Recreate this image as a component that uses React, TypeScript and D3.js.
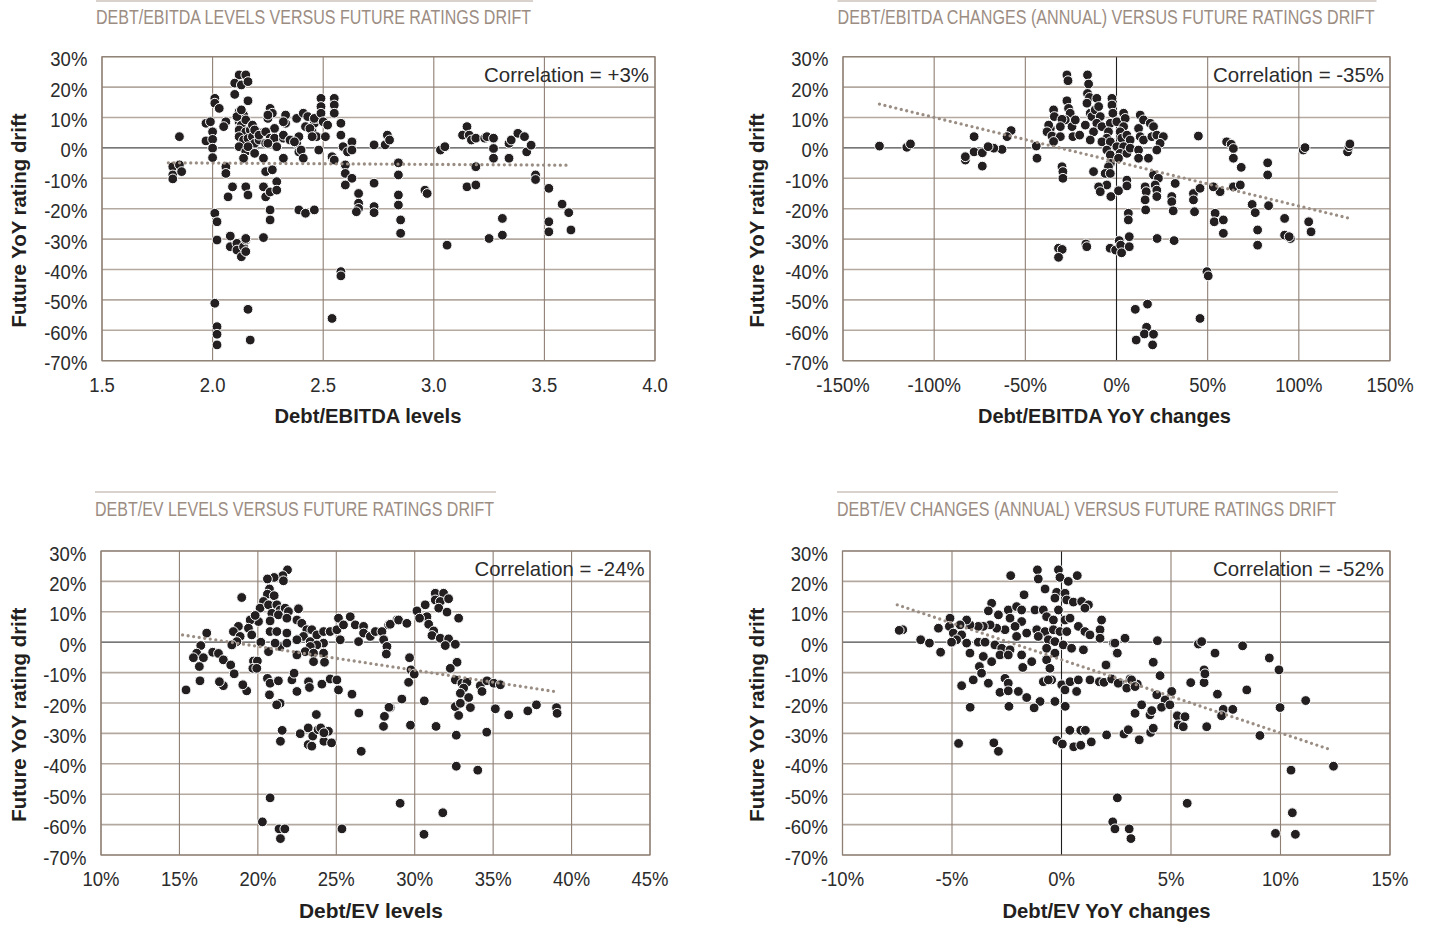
import React from 'react';
import * as d3 from 'd3';

type Pt = [number, number];

const SANS = "'Liberation Sans', Arial, sans-serif";

// shared y axis (future YoY rating drift, %)
const yTicks = [30, 20, 10, 0, -10, -20, -30, -40, -50, -60, -70];

// x ticks per panel
const ebitdaLevelTicks = [1.5, 2.0, 2.5, 3.0, 3.5, 4.0];
const ebitdaChangeTicks = [-150, -100, -50, 0, 50, 100, 150];
const evLevelTicks = [10, 15, 20, 25, 30, 35, 40, 45];
const evChangeTicks = [-10, -5, 0, 5, 10, 15];

// Debt/EBITDA levels vs drift
const ebitdaLevelPts: Pt[] = [
  [2.12, 24.0], [2.15, 24.0], [2.10, 21.3], [2.13, 20.7], [2.16, 21.8], [2.10, 17.6], [2.16, 15.5],
  [2.01, 16.3], [2.01, 14.7], [2.03, 13.0],
  [1.97, 8.1], [1.99, 8.6], [1.97, 2.3], [2.00, 5.3], [2.00, 2.8], [2.00, -0.1], [2.00, -3.2],
  [1.85, 3.7], [2.06, 8.6], [2.05, 7.0],
  [2.12, 11.9], [2.14, 10.8], [2.12, 8.6], [2.13, 7.5], [2.15, 9.2], [2.18, 7.5], [2.12, 5.9], [2.15, 5.3],
  [2.17, 5.9], [2.20, 5.3], [2.12, 3.7], [2.14, 2.6], [2.16, 3.1], [2.18, 3.7], [2.21, 4.2], [2.12, 0.4],
  [2.17, 0.2], [2.19, 1.5], [2.21, 2.6], [2.15, -1.2], [2.19, -1.7], [2.14, -3.4],
  [2.11, 10.3], [2.13, 12.5], [2.16, 0.4], [2.18, 7.5], [2.19, 5.9], [2.19, -1.8], [2.21, 4.2],
  [2.26, 13.0], [2.27, 11.4], [2.25, 9.7], [2.28, 6.4], [2.24, 5.3], [2.26, 3.2], [2.24, 1.5], [2.28, 3.2],
  [2.29, 0.4], [2.32, 3.2], [2.33, 8.1], [2.33, 10.8], [2.32, -3.4], [2.25, 1.5], [2.25, 10.8], [2.32, 4.2],
  [2.32, 8.6], [2.35, 2.6], [2.38, 1.5], [2.39, -1.3],
  [2.23, -3.4], [2.24, -7.8], [2.27, -7.2], [2.29, -11.1], [2.23, -12.8], [2.24, -16.1], [2.26, -14.5],
  [2.29, -13.9], [2.09, -12.8], [2.07, -16.1], [2.15, -12.8], [2.16, -15.5], [2.14, -3.4], [2.06, -6.2], [2.06, -8.4],
  [2.38, 9.7], [2.41, 11.4], [2.43, 10.3], [2.42, 7.0], [2.46, 8.1], [2.47, 9.7], [2.45, 5.3], [2.47, 3.7],
  [2.39, 3.7], [2.35, 2.6], [2.37, 2.0], [2.40, -0.7], [2.41, -3.4], [2.44, 6.4], [2.45, 3.7], [2.46, 9.7],
  [2.49, 16.3], [2.49, 13.6], [2.49, 11.4], [2.50, 8.6], [2.52, 7.5], [2.51, 3.7], [2.48, -0.7],
  [2.55, 16.3], [2.55, 14.1], [2.55, 11.4], [2.58, 8.1], [2.58, 4.2], [2.59, 0.4], [2.61, -1.3], [2.63, 2.0],
  [2.63, -0.7], [2.54, -2.9], [2.55, -4.0], [2.60, -5.6], [2.60, -8.4], [2.63, -10.0], [2.60, -12.2],
  [2.73, 1.0], [2.78, 1.0], [2.79, 4.2], [2.80, 2.6], [2.73, -11.6], [2.66, -15.0], [2.66, -18.2], [2.73, -19.3], [2.66, -19.9],
  [1.82, -6.2], [1.82, -8.9], [1.85, -5.6], [1.86, -7.8], [1.82, -10.2],
  [2.01, -21.5], [2.02, -24.3], [2.02, -30.3], [2.01, -51.1], [2.02, -58.8], [2.02, -61.3], [2.02, -64.8],
  [2.08, -29.0], [2.08, -32.5], [2.11, -31.4], [2.11, -33.6], [2.13, -35.8], [2.14, -32.5], [2.15, -30.3],
  [2.15, -29.8], [2.15, -34.1], [2.16, -53.1], [2.17, -63.2], [2.23, -29.5], [2.26, -20.4], [2.26, -23.7],
  [2.39, -20.4], [2.42, -21.5], [2.46, -20.4], [2.54, -56.1], [2.58, -40.7], [2.58, -42.1], [2.65, -21.0],
  [2.73, -21.3], [2.84, -4.9], [2.84, -8.9], [2.84, -15.5], [2.84, -18.8], [2.85, -23.7], [2.85, -28.1],
  [2.96, -13.9], [2.97, -15.0], [3.03, -0.7], [3.05, 0.4], [3.06, -32.0], [3.13, 4.2], [3.15, 7.0],
  [3.16, 4.2], [3.17, 2.6], [3.15, -12.8], [3.19, -12.2], [3.19, -6.2], [3.19, 3.2], [3.23, 3.2],
  [3.24, 3.7], [3.27, 3.2], [3.27, -0.2], [3.27, -3.4], [3.25, -29.8], [3.31, -23.2], [3.31, -28.7],
  [3.34, 1.5], [3.35, 2.6], [3.34, -3.4], [3.38, 4.8], [3.41, 3.7], [3.42, -1.3], [3.44, 0.9],
  [3.46, -8.9], [3.46, -10.4], [3.52, -13.3], [3.52, -24.3], [3.52, -27.6], [3.58, -18.5], [3.61, -21.3], [3.62, -27.0],
];

// Debt/EBITDA YoY changes (%) vs drift
const ebitdaChangePts: Pt[] = [
  [-27.2, 24.0], [-26.6, 22.1], [-15.9, 24.0], [-15.3, 21.0], [-15.9, 17.9], [-14.8, 16.6], [-16.2, 14.7],
  [-10.8, 16.3], [-27.2, 15.5], [-26.3, 13.0], [-25.4, 11.4], [-28.1, 9.2], [-34.5, 12.5], [-34.1, 10.3],
  [-29.9, 9.4], [-30.8, 7.0], [-36.3, 6.4], [-37.2, 7.5], [-38.1, 5.3], [-35.4, 3.9], [-30.8, 3.7],
  [-34.5, 2.1], [-24.4, 7.0], [-23.9, 3.7], [-20.2, 4.2], [-22.6, 9.2], [-17.1, 7.5], [-14.4, 11.4],
  [-13.5, 10.3], [-11.7, 12.5], [-9.8, 13.6], [-8.9, 10.3], [-10.8, 8.1], [-12.6, 5.3], [-14.4, 2.6],
  [-8.0, 7.0], [-2.5, 16.3], [-2.5, 14.1], [-2.0, 11.4], [-3.4, 8.1], [0.2, 8.6], [3.9, 11.4], [4.8, 9.7],
  [3.9, 7.0], [2.0, 5.3], [-4.4, 5.3], [-5.3, 3.2], [-8.0, 2.0], [-3.4, 2.0], [2.9, 3.2], [5.7, 4.2],
  [7.5, 2.6], [0.2, 0.4], [3.9, 0.4], [-5.3, -0.7], [-3.4, -2.3], [2.0, -1.8], [5.7, -1.8], [7.5, -0.1],
  [12.1, 6.4], [13.0, 10.8], [14.8, 9.2], [18.5, 8.1], [20.3, 7.0], [13.0, 3.7], [14.8, 2.6], [19.4, 3.7],
  [22.1, 4.2], [25.7, 3.7], [23.9, 1.5], [22.1, -0.7], [12.1, -0.7], [12.1, -3.4], [17.5, -3.4], [1.1, -3.4],
  [-3.4, -5.1], [-4.4, -6.2], [-6.2, -8.4], [-3.4, -8.4], [-12.6, -7.8], [-29.9, -6.2], [-29.4, -7.8],
  [-29.4, -10.0], [-43.6, -3.4], [-44.0, 0.6], [-62.8, -0.5], [-67.3, -0.1], [-57.8, 5.7], [-60.0, 3.7],
  [5.7, -10.6], [5.7, -12.5], [-5.3, -12.2], [-9.8, -12.8], [-8.9, -14.4], [-3.1, -16.0], [1.1, -14.1],
  [15.7, -12.8], [16.3, -14.4], [20.3, -8.9], [23.0, -10.0], [21.2, -12.2], [22.1, -13.9], [22.1, -16.0],
  [15.7, -17.1], [32.2, -11.7], [30.3, -16.0], [30.3, -17.7], [42.2, -15.0], [42.2, -17.1], [45.8, -13.3],
  [44.9, 3.9], [56.8, -14.4], [53.1, -12.8], [60.4, 2.0],
  [-130.0, 0.6], [-115.0, 0.2], [-113.0, 1.3], [-82.9, -4.0], [-82.9, -2.9], [-78.1, 3.7], [-78.1, -1.3],
  [-73.6, -1.6], [-73.6, -6.0], [-70.4, 0.4], [-31.8, -33.0], [-29.8, -33.4], [-31.8, -36.0], [-16.8, -31.6],
  [-16.3, -32.5], [-3.5, -33.0], [-0.5, -33.6], [1.5, -30.5], [2.3, -32.0], [2.8, -34.5], [7.0, -29.2],
  [7.0, -32.5], [6.5, -21.5], [6.5, -23.7], [10.3, -53.1], [10.8, -63.2], [17.0, -51.4], [16.5, -59.0],
  [15.3, -61.2], [20.3, -61.3], [19.8, -64.8], [16.0, -20.4], [22.3, -29.8], [31.1, -20.7], [31.6, -30.5],
  [42.8, -21.0], [49.6, -40.7], [50.3, -42.1], [45.8, -56.1], [54.1, -21.5], [53.6, -24.3], [58.6, -23.7],
  [58.6, -28.1], [62.9, 1.2], [64.1, -0.2], [64.1, -3.4], [64.1, -12.8], [67.9, -12.2], [68.4, -6.4],
  [74.4, -18.6], [76.1, -21.3], [77.4, -27.0], [77.4, -32.0], [82.9, -4.9], [82.9, -8.9], [83.4, -19.0],
  [92.2, -23.2], [92.2, -28.7], [95.4, -29.8], [94.7, -29.2], [102.4, -0.7], [103.4, 0.1], [105.4, -24.3],
  [106.7, -27.6], [126.7, -1.3], [127.5, 0.4], [128.0, 1.3],
];

// Debt/EV levels (%) vs drift
const evLevelPts: Pt[] = [
  [21.89, 23.8], [21.59, 21.9], [21.63, 20.2], [21.04, 21.3], [20.61, 20.8], [20.74, 17.5], [20.61, 15.8],
  [21.04, 15.3], [18.97, 14.7], [20.36, 13.4], [20.14, 11.2], [20.68, 12.3], [21.21, 12.3], [21.42, 10.6],
  [21.74, 11.2], [21.95, 10.1], [22.59, 11.0], [20.89, 9.5], [21.31, 9.0], [21.85, 7.9], [20.78, 7.0],
  [20.04, 6.8], [19.51, 7.3], [19.83, 8.8], [19.40, 4.6], [19.61, 2.4], [18.76, 5.2], [18.44, 3.5],
  [18.87, 1.9], [18.66, 0.2], [18.34, -0.9], [16.74, 3.0], [16.36, -1.1], [16.10, -3.6], [15.89, -5.1],
  [16.53, -5.1], [16.27, -8.0], [17.12, -3.3], [17.49, -3.7], [17.80, -5.8], [18.27, -7.5], [18.49, -10.4],
  [20.19, 0.0], [19.72, -6.2], [19.97, -6.2], [19.68, -8.6], [19.93, -8.6], [20.78, 3.5], [21.21, 3.5],
  [21.85, 3.0], [22.49, 7.3], [22.80, 6.2], [23.12, 4.1], [23.44, 4.1], [22.91, 1.9], [22.49, 0.8],
  [23.34, 0.2], [23.76, 2.4], [24.19, 3.5], [24.61, 3.5], [25.04, 4.1], [25.14, 7.9], [25.46, 5.7],
  [25.89, 8.4], [26.21, 5.7], [26.74, 5.2], [26.74, 3.0], [27.17, 1.9], [27.49, 3.5], [27.91, 3.5],
  [28.34, 5.7], [28.87, 7.3], [28.02, 0.8], [28.23, -1.4], [28.19, -3.9], [26.42, 0.2], [25.25, 0.8],
  [24.19, -0.3], [23.76, -0.9], [23.34, -1.4], [23.02, -3.1], [23.55, -3.6], [24.19, -3.6], [22.49, -4.2],
  [21.42, -1.4], [21.10, -0.3], [20.68, -3.1], [21.85, -0.3], [23.55, -6.4], [24.25, -6.6], [20.61, -11.9],
  [20.78, -13.5], [21.31, -12.7], [22.17, -12.4], [22.31, -10.2], [23.23, -13.0], [23.29, -14.9], [24.08, -13.8],
  [24.61, -12.1], [25.04, -12.4], [25.14, -15.7], [26.00, -17.1], [22.49, -16.2], [20.74, -17.3], [19.29, -16.0],
  [19.04, -14.0], [17.80, -14.3], [17.55, -13.0], [16.31, -12.7], [15.42, -15.7], [21.42, -20.1],
  [28.44, 5.9], [28.97, 7.3], [29.50, 6.2], [30.14, 10.3], [30.67, 12.3], [31.31, 16.1], [31.84, 16.1],
  [31.31, 13.9], [31.63, 13.4], [32.16, 14.3], [31.53, 11.2], [32.06, 9.9], [32.80, 7.9], [30.78, 8.4],
  [30.31, 7.9], [30.89, 5.9], [31.21, 3.7], [31.10, 2.2], [31.63, 1.3], [32.16, 1.1], [32.59, -0.7],
  [31.95, -1.1], [32.70, -6.6], [32.27, -8.6], [29.67, -5.1], [29.76, -9.1], [29.97, -10.5], [29.61, -13.2],
  [29.18, -18.7], [30.61, -19.3], [28.44, -21.5], [32.59, -12.4], [33.01, -13.5], [33.33, -13.2], [33.12, -15.1],
  [32.91, -16.8], [33.44, -18.2], [32.59, -21.2], [32.91, -20.1], [33.55, -21.5], [32.80, -24.1], [34.18, -14.3],
  [34.29, -16.2], [34.61, -12.7], [35.04, -13.5], [35.46, -14.0], [35.14, -21.9], [35.99, -23.9], [37.21, -22.6],
  [37.76, -20.6], [39.04, -21.5], [39.08, -23.4],
  [21.20, -20.6], [21.55, -29.0], [21.44, -32.6], [20.78, -51.2], [20.29, -59.1], [21.35, -61.4], [21.72, -61.4],
  [21.44, -64.6], [22.70, -30.1], [23.21, -28.2], [23.50, -30.9], [23.21, -33.7], [23.44, -34.2], [23.73, -23.8],
  [23.84, -28.8], [24.21, -32.6], [24.01, -28.2], [24.50, -29.3], [24.70, -33.1], [24.21, -29.8], [25.36, -61.4],
  [26.44, -23.3], [26.59, -35.9], [28.01, -27.7], [28.07, -24.4], [28.36, -21.4], [29.07, -53.0], [29.73, -27.3],
  [30.59, -63.2], [31.36, -27.7], [31.79, -56.1], [32.65, -40.8], [32.65, -30.6], [34.02, -42.1], [34.59, -29.6],
];

// Debt/EV YoY changes (%) vs drift
const evChangePts: Pt[] = [
  [-1.10, 23.8], [-1.06, 20.8], [-0.14, 23.8], [-0.07, 21.3], [0.31, 20.0], [0.72, 21.9], [-2.32, 21.9],
  [-0.75, 17.5], [-0.22, 16.4], [-0.30, 14.5], [0.16, 16.1], [0.24, 13.9], [0.54, 13.2], [0.92, 13.4],
  [1.23, 12.3], [1.07, 11.2], [-1.71, 15.6], [-3.19, 12.8], [-3.34, 10.3], [-2.88, 9.0], [-2.43, 10.6],
  [-2.05, 11.7], [-1.82, 10.6], [-2.35, 7.9], [-1.82, 6.8], [-2.12, 5.2], [-2.58, 4.1], [-2.96, 4.6],
  [-3.26, 5.7], [-3.57, 5.2], [-3.80, 5.2], [-4.18, 5.7], [-4.33, 7.3], [-4.63, 5.7], [-5.09, 7.9],
  [-5.12, 5.2], [-4.94, 3.0], [-4.56, 2.4], [-4.79, 0.8], [-5.62, 4.6], [-7.25, 4.1], [-6.43, 0.8],
  [-6.03, -0.3], [-5.52, -3.3], [-5.02, 0.0], [-4.33, -0.3], [-4.18, -3.6], [-3.80, 0.0], [-3.49, 0.0],
  [-3.04, -0.9], [-2.73, -2.0], [-2.35, -2.5], [-2.05, 1.9], [-1.59, 3.0], [-1.13, 4.1], [-1.21, 10.6],
  [-0.83, 10.6], [-0.68, 8.4], [-0.37, 7.3], [-0.14, 10.6], [0.16, 7.3], [0.39, 7.9], [-0.75, 3.5],
  [-0.37, 4.1], [-0.07, 3.5], [0.24, 3.5], [-1.06, 1.9], [-0.60, 0.8], [-0.30, 0.2], [0.08, -0.9],
  [-0.68, -2.0], [-0.30, -3.6], [0.46, -2.0], [0.77, 5.2], [1.07, 3.5], [1.30, 2.4], [1.76, 4.1],
  [1.83, 7.3], [1.76, 1.3], [2.37, -0.3], [2.52, -3.6], [2.90, 1.3], [1.00, -2.5], [-3.57, -4.7],
  [-3.19, -6.4], [-2.81, -4.2], [-2.43, -4.2], [-1.82, -4.2], [-1.77, -8.3], [-1.36, -6.4], [-0.68, -5.8],
  [-0.53, -8.6], [-3.75, -8.0], [-3.65, -10.2], [-4.03, -12.4], [-3.34, -13.5], [-4.56, -14.3], [-2.58, -11.9],
  [-2.43, -13.5], [-2.81, -16.5], [-2.43, -16.0], [-1.97, -16.2], [-1.59, -18.2], [-0.98, -19.5], [-0.45, -12.4],
  [-0.83, -13.0], [-0.60, -12.4], [-0.30, -19.5], [0.01, -14.0], [0.16, -15.7], [0.39, -13.0], [0.69, -16.2],
  [0.77, -12.4], [1.30, -12.4], [1.73, -13.0], [1.94, -13.2], [2.06, -7.5], [2.29, -12.1], [2.67, -13.5],
  [2.98, -15.1], [3.13, -12.1], [3.46, -13.8],
  [2.44, -0.3], [2.55, -3.6], [4.38, 0.5], [6.25, -0.6], [6.40, 0.2], [7.01, -3.6], [8.27, -1.2],
  [9.49, -5.2], [9.93, -9.1], [4.19, -6.6], [4.50, -11.0], [2.03, -7.5], [2.59, -13.5], [3.20, -12.4],
  [3.36, -14.6], [4.35, -17.3], [5.03, -16.2], [4.73, -19.0], [4.57, -21.4], [4.95, -20.6], [3.66, -20.6],
  [3.36, -23.4], [4.04, -23.9], [4.12, -22.5], [5.29, -24.2], [5.64, -24.5], [5.33, -27.2], [5.56, -27.8],
  [5.90, -13.3], [6.51, -13.3], [6.51, -9.1], [6.55, -10.4], [7.12, -17.1], [8.46, -15.7], [7.39, -22.1],
  [7.31, -24.2], [7.82, -22.1], [6.63, -27.8], [9.98, -21.5], [11.15, -19.2], [9.06, -30.7], [2.06, -30.5],
  [2.85, -30.2], [3.05, -28.8], [3.55, -32.1], [4.07, -29.7], [4.19, -28.3],
  [-7.41, 3.9], [-4.70, -33.3], [-4.17, -21.4], [-3.09, -33.1], [-2.88, -35.9], [-2.40, -21.1], [-1.25, -21.6],
  [0.17, -21.1], [-0.21, -32.3], [0.04, -33.5], [0.38, -29.0], [0.56, -34.4], [0.88, -29.0], [0.88, -33.9],
  [1.09, -29.0], [1.36, -32.8], [2.55, -51.2], [2.34, -59.1], [2.44, -61.4], [3.09, -61.4], [3.17, -64.6],
  [5.74, -53.0], [9.77, -62.9], [10.48, -42.1], [10.54, -56.1], [10.68, -63.2], [12.42, -40.8],
];

// dotted regression lines (end points)
const ebitdaLevelTrend: Pt[] = [[1.80, -4.9], [3.62, -5.7]];
const ebitdaChangeTrend: Pt[] = [[-130, 14.4], [128, -23.2]];
const evLevelTrend: Pt[] = [[15.2, 2.4], [38.9, -16.2]];
const evChangeTrend: Pt[] = [[-7.5, 12.3], [12.35, -35.5]];

const titleColor = '#9c8d83';
const gridV = '#8e7f74';
const gridH = '#b3a9a1';
const TICK_SX = 0.88; // condensed look for tick labels

interface PanelProps {
  left: number; right: number; top: number; bottom: number;
  xDomain: [number, number];
  xTicks: number[];
  fmt: (v: number) => string;
  pts: Pt[];
  trend: Pt[];
  title: string; titleX: number; titleW: number; titleSx: number; ruleY: number; titleY: number;
  corr: string; corrRight: number; corrW: number;
  xTitle: string; xTitleW: number; xTitleCx: number;
  yTitleX: number; yTitleCy: number;
  zeroV: boolean;
}

function Panel(p: PanelProps) {
  const x = d3.scaleLinear().domain(p.xDomain).range([p.left, p.right]);
  const y = d3.scaleLinear().domain([-70, 30]).range([p.bottom, p.top]);
  const line = d3.line<Pt>().x(d => x(d[0])).y(d => y(d[1]));
  return (
    <g>
      <line x1={p.titleX} x2={p.titleX + p.titleW} y1={p.ruleY} y2={p.ruleY} stroke="#cbc2bb" strokeWidth={1.5} />
      <text transform={`translate(${p.titleX},${p.titleY}) scale(${p.titleSx},1)`} fill={titleColor}
        fontFamily={SANS} fontSize={20} textLength={(p.titleW - 2) / p.titleSx}
        lengthAdjust="spacingAndGlyphs">{p.title}</text>

      {yTicks.map(v => (
        <line key={'h' + v} x1={p.left} x2={p.right} y1={y(v)} y2={y(v)}
          stroke={v === 0 ? '#4a4a4a' : gridH} strokeWidth={v === 0 ? 1.3 : 1.6} />
      ))}
      {p.xTicks.map(v => (
        <line key={'v' + v} x1={x(v)} x2={x(v)} y1={p.top} y2={p.bottom}
          stroke={p.zeroV && v === 0 ? '#1e1e1e' : gridV} strokeWidth={1.1} />
      ))}
      <rect x={p.left} y={p.top} width={p.right - p.left} height={p.bottom - p.top}
        fill="none" stroke={gridV} strokeWidth={1.2} />

      {yTicks.map(v => (
        <text key={'yl' + v} transform={`translate(${p.left - 14.7},${y(v) + 9.5}) scale(${TICK_SX},1)`}
          textAnchor="end" fontFamily={SANS} fontSize={21} fill="#2b2b2b">{v}%</text>
      ))}
      {p.xTicks.map(v => (
        <text key={'xl' + v} transform={`translate(${x(v)},${p.bottom + 31}) scale(${TICK_SX},1)`}
          textAnchor="middle" fontFamily={SANS} fontSize={21} fill="#2b2b2b">{p.fmt(v)}</text>
      ))}

      {p.pts.map((d, i) => (
        <circle key={i} cx={x(d[0])} cy={y(d[1])} r={4.9} fill="#231f20" stroke="#ffffff" strokeWidth={1} />
      ))}
      <path d={line(p.trend) || ''} fill="none" stroke="#9a8d83" strokeWidth={3.3}
        strokeDasharray="0 5.6" strokeLinecap="round" />

      <text x={p.corrRight} y={p.top + 25} textAnchor="end" fontFamily={SANS} fontSize={21}
        fill="#2b2b2b" textLength={p.corrW} lengthAdjust="spacingAndGlyphs">{p.corr}</text>

      <text x={p.xTitleCx} y={p.bottom + 62.5} textAnchor="middle" fontFamily={SANS} fontWeight="bold"
        fontSize={20.5} fill="#231f20" textLength={p.xTitleW} lengthAdjust="spacingAndGlyphs">{p.xTitle}</text>
      <text transform={`translate(${p.yTitleX},${p.yTitleCy}) rotate(-90)`} textAnchor="middle"
        fontFamily={SANS} fontWeight="bold" fontSize={20.5} fill="#231f20"
        textLength={214} lengthAdjust="spacingAndGlyphs">Future YoY rating drift</text>
    </g>
  );
}

const pct = (v: number) => `${v}%`;
const one = d3.format('.1f');

export default function App() {
  return (
    <svg width={1430} height={926} style={{ position: 'absolute', left: 0, top: 0, background: '#fff' }}>
      <Panel left={102} right={655} top={56.7} bottom={360.7} xDomain={[1.5, 4.0]} xTicks={ebitdaLevelTicks}
        fmt={one} pts={ebitdaLevelPts} trend={ebitdaLevelTrend}
        title="DEBT/EBITDA LEVELS VERSUS FUTURE RATINGS DRIFT" titleX={96} titleW={437} titleSx={0.8}
        ruleY={1} titleY={24}
        corr="Correlation = +3%" corrRight={649} corrW={165}
        xTitle="Debt/EBITDA levels" xTitleW={187} xTitleCx={368} yTitleX={26} yTitleCy={220.5} zeroV={false} />
      <Panel left={843} right={1390} top={56.7} bottom={360.7} xDomain={[-150, 150]} xTicks={ebitdaChangeTicks}
        fmt={pct} pts={ebitdaChangePts} trend={ebitdaChangeTrend}
        title="DEBT/EBITDA CHANGES (ANNUAL) VERSUS FUTURE RATINGS DRIFT" titleX={837.5} titleW={539} titleSx={0.8}
        ruleY={1} titleY={24}
        corr="Correlation = -35%" corrRight={1384} corrW={171}
        xTitle="Debt/EBITDA YoY changes" xTitleW={253} xTitleCx={1104.5} yTitleX={764} yTitleCy={220.5} zeroV={true} />
      <Panel left={101} right={650} top={551} bottom={855} xDomain={[10, 45]} xTicks={evLevelTicks}
        fmt={pct} pts={evLevelPts} trend={evLevelTrend}
        title="DEBT/EV LEVELS VERSUS FUTURE RATINGS DRIFT" titleX={95} titleW={401} titleSx={0.8}
        ruleY={492} titleY={516}
        corr="Correlation = -24%" corrRight={644.5} corrW={170}
        xTitle="Debt/EV levels" xTitleW={144} xTitleCx={371} yTitleX={26} yTitleCy={714.7} zeroV={false} />
      <Panel left={842.5} right={1390} top={551} bottom={855} xDomain={[-10, 15]} xTicks={evChangeTicks}
        fmt={pct} pts={evChangePts} trend={evChangeTrend}
        title="DEBT/EV CHANGES (ANNUAL) VERSUS FUTURE RATINGS DRIFT" titleX={837} titleW={501} titleSx={0.8}
        ruleY={492} titleY={516}
        corr="Correlation = -52%" corrRight={1384} corrW={171}
        xTitle="Debt/EV YoY changes" xTitleW={208} xTitleCx={1106.5} yTitleX={764} yTitleCy={714.7} zeroV={true} />
    </svg>
  );
}
